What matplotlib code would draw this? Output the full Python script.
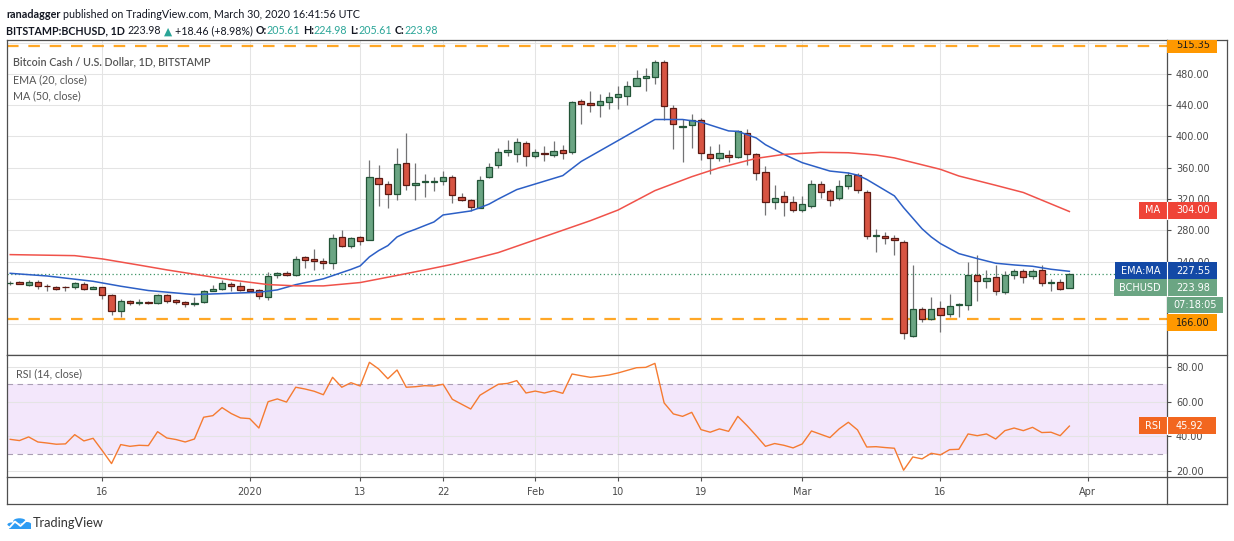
import numpy as np
import pandas as pd
import matplotlib
matplotlib.use('Agg')
import matplotlib.pyplot as plt
from matplotlib.patches import Rectangle, Circle
from matplotlib.lines import Line2D
from matplotlib.transforms import Bbox, TransformedBbox

# ---------------- data ----------------
start_date = '2019-12-06'
opens = [212.0, 213.9, 210.5, 213.5, 208.8, 207.5, 207.3, 207.1, 211.8, 205.4,
         207.1, 196.9, 176.4, 189.7, 186.6, 188.4, 186.6, 196.9, 190.5, 188.4,
         185.4, 188.0, 202.9, 205.4, 211.0, 208.4, 204.6, 203.3, 195.2, 222.4,
         225.4, 223.4, 245.5, 243.0, 240.3, 238.3, 271.9, 260.0, 271.9, 268.1,
         347.2, 339.6, 326.8, 366.4, 338.3, 341.7, 342.0, 343.4, 348.5, 323.0,
         319.1, 309.0, 348.5, 363.5, 380.2, 377.6, 391.7, 375.0, 378.3, 376.3,
         382.7, 379.7, 445.4, 443.3, 440.3, 443.7, 450.6, 451.8, 464.6, 474.9,
         476.2, 495.4, 436.5, 412.2, 414.7, 421.3, 377.9, 372.8, 376.6, 374.0,
         404.7, 377.9, 354.9, 316.6, 324.3, 316.6, 306.4, 311.5, 339.6, 330.6,
         321.3, 337.0, 351.1, 329.4, 273.2, 273.2, 270.6, 265.5, 144.3, 180.0,
         166.8, 181.3, 173.6, 184.5, 185.1, 223.0, 215.3, 220.9, 201.3, 223.4,
         228.5, 222.1, 229.8, 213.2, 214.5, 205.61]
highs = [214.8, 214.8, 216.1, 216.1, 211.0, 208.4, 208.4, 213.5, 213.5, 208.4,
         207.9, 198.2, 192.3, 191.0, 191.8, 189.2, 198.2, 198.2, 192.3, 190.1,
         194.4, 203.8, 209.7, 216.1, 213.9, 213.9, 205.4, 205.4, 226.7, 226.7,
         227.9, 247.7, 246.8, 255.7, 244.3, 275.7, 280.0, 271.5, 272.5, 369.4,
         363.0, 342.6, 384.7, 403.8, 365.5, 351.5, 348.0, 355.3, 350.2, 327.2,
         320.0, 349.0, 365.5, 385.3, 395.9, 398.5, 393.8, 384.4, 388.3, 393.8,
         389.1, 445.5, 448.0, 458.2, 454.8, 456.5, 463.8, 470.2, 484.3, 487.3,
         497.1, 497.0, 440.0, 422.4, 429.2, 423.8, 387.2, 389.8, 382.1, 407.7,
         409.8, 378.5, 361.7, 337.4, 329.8, 323.4, 324.3, 343.8, 343.0, 332.8,
         343.8, 354.5, 353.6, 331.0, 281.3, 278.3, 274.5, 267.2, 235.3, 181.7,
         194.5, 189.4, 198.3, 187.5, 239.1, 248.1, 228.9, 235.7, 228.5, 231.1,
         231.1, 231.1, 235.3, 217.4, 218.3, 224.98]
lows = [209.7, 211.0, 208.4, 205.4, 202.9, 204.2, 202.9, 205.4, 204.2, 204.6,
        192.7, 172.2, 169.6, 184.1, 184.1, 185.8, 186.2, 187.1, 185.8, 182.4,
        183.7, 186.6, 202.9, 204.2, 202.9, 202.9, 202.5, 192.7, 191.0, 219.5,
        221.5, 221.7, 231.9, 228.9, 230.2, 230.2, 258.3, 257.4, 261.0, 267.0,
        311.1, 308.5, 318.3, 331.5, 318.3, 322.6, 330.0, 337.9, 314.9, 317.0,
        304.3, 308.0, 347.0, 359.3, 374.7, 367.0, 362.7, 372.5, 368.2, 373.3,
        370.8, 377.2, 415.6, 430.9, 424.5, 434.4, 434.8, 439.9, 464.0, 457.8,
        467.2, 421.1, 383.6, 367.0, 385.7, 370.2, 351.5, 368.5, 366.8, 372.0,
        363.8, 344.3, 299.6, 307.2, 297.9, 304.0, 303.4, 309.0, 320.9, 310.6,
        319.0, 332.8, 327.7, 268.5, 252.8, 263.0, 248.5, 141.3, 143.0, 162.6,
        165.0, 150.2, 169.4, 169.8, 178.7, 189.8, 206.4, 197.4, 198.3, 217.9,
        213.2, 217.9, 208.5, 202.6, 203.4, 205.61]
closes = [212.4, 211.8, 213.5, 208.4, 208.2, 205.4, 206.9, 212.2, 205.4, 207.5,
          196.9, 176.4, 189.2, 186.6, 188.4, 186.6, 196.9, 189.2, 188.0, 185.4,
          187.5, 202.9, 205.0, 212.2, 208.4, 204.2, 202.9, 195.6, 221.2, 225.4,
          222.4, 243.8, 242.6, 241.3, 238.7, 270.6, 260.0, 270.6, 266.4, 348.5,
          339.6, 326.8, 365.1, 338.3, 340.0, 343.4, 342.3, 348.5, 325.5, 319.1,
          310.2, 344.7, 361.3, 380.2, 382.7, 393.0, 375.0, 380.2, 377.6, 381.9,
          378.9, 444.2, 441.6, 440.3, 444.6, 450.6, 454.8, 465.0, 474.9, 476.6,
          495.4, 439.0, 416.0, 413.5, 421.1, 378.7, 372.8, 379.1, 374.0, 406.4,
          377.9, 353.6, 316.6, 321.7, 316.6, 306.4, 314.0, 339.6, 329.4, 319.1,
          337.0, 351.1, 331.9, 273.2, 274.5, 270.6, 268.1, 148.1, 180.0, 166.8,
          180.0, 172.3, 183.8, 185.5, 222.6, 215.7, 219.6, 202.6, 222.6, 228.5,
          220.9, 228.5, 213.2, 214.5, 205.1, 223.98]

ema_day = [0, 4, 9, 12, 15, 20, 24, 27, 29, 31, 34, 37, 38, 39, 40, 41, 42, 43, 44, 45,
           46, 47, 48, 49, 50, 51, 52, 53, 55, 60, 61, 62, 66, 70, 73, 75, 78, 79, 81, 82,
           84, 86, 89, 91, 92, 93, 96, 97, 99, 100, 101, 102, 103, 105, 107, 109, 111, 113, 115]
ema_val = [225.0, 221.6, 214.8, 208.5, 203.0, 197.8, 199.5, 200.8, 203.8, 210.5, 218.0, 230.0,
           234.5, 246.0, 254.0, 260.4, 271.5, 277.0, 281.3, 286.0, 290.6, 299.6, 301.3, 303.0,
           304.7, 308.9, 313.5, 320.0, 332.0, 349.9, 359.0, 368.0, 394.7, 421.6, 421.6, 418.3,
           407.0, 406.4, 398.0, 389.4, 377.0, 366.4, 355.7, 353.2, 350.5, 345.0, 324.0, 309.0,
           282.0, 271.5, 263.0, 256.6, 250.2, 243.8, 237.9, 235.7, 234.0, 230.2, 227.55]

ma_day = [0, 7, 10, 14, 17, 21, 24, 28, 31, 34, 38, 41, 45, 48, 53, 63, 66, 70, 74, 77,
          81, 84, 88, 91, 94, 96, 101, 103, 107, 110, 115]
ma_val = [248.9, 247.6, 243.4, 235.5, 229.4, 222.0, 216.5, 210.6, 209.0, 208.9, 213.2, 220.0,
          229.3, 236.5, 251.5, 292.3, 305.9, 330.7, 348.5, 360.0, 371.9, 377.0, 379.6, 379.1,
          376.2, 372.5, 357.9, 349.4, 337.5, 328.3, 304.0]

rsi_val = [38.3, 37.6, 39.7, 36.8, 36.2, 35.5, 35.7, 41.0, 37.4, 38.9,
           31.8, 24.4, 35.3, 34.3, 34.9, 34.7, 42.7, 39.1, 38.2, 36.8,
           38.5, 51.0, 51.9, 56.5, 53.1, 50.6, 50.2, 44.8, 59.9, 61.5,
           59.7, 68.2, 67.2, 65.9, 63.9, 73.9, 68.2, 70.8, 68.9, 82.5,
           78.7, 73.1, 78.1, 68.2, 68.5, 69.1, 68.9, 69.9, 61.3, 58.5,
           55.7, 63.6, 66.8, 69.9, 70.4, 72.0, 64.9, 66.0, 64.9, 66.2,
           64.7, 75.8, 74.8, 73.9, 74.5, 75.2, 76.4, 77.9, 79.4, 79.6,
           81.9, 59.2, 52.9, 51.5, 53.8, 43.9, 42.4, 44.3, 42.9, 51.5,
           46.2, 40.4, 34.3, 35.9, 34.9, 33.4, 35.7, 43.1, 41.2, 39.3,
           44.3, 48.1, 43.7, 33.9, 34.1, 33.6, 33.2, 20.6, 28.2, 27.1,
           30.3, 29.4, 32.4, 32.6, 41.4, 40.4, 41.4, 38.5, 43.3, 44.8,
           43.3, 45.2, 42.2, 42.4, 40.4, 45.92]

tick_dates = ['2019-12-16', '2020-01-01', '2020-01-13', '2020-01-22', '2020-02-01',
              '2020-02-10', '2020-02-19', '2020-03-01', '2020-03-16', '2020-04-01']
tick_labels = ['16', '2020', '13', '22', 'Feb', '10', '19', 'Mar', '16', 'Apr']
price_ticks = [160, 200, 240, 280, 320, 360, 400, 440, 480, 520]
price_hidden = [160, 200, 520]   # covered by value labels in the original
rsi_ticks = [20, 40, 60, 80]
support_level = 166.00
resistance_level = 515.35
ema_last = 227.55
ma_last = 304.00
rsi_last = 45.92
countdown = '07:18:05'

# ---------------- layout helpers ----------------
W, H = 1234, 541
fig = plt.figure(figsize=(W / 100, H / 100), dpi=100)
fig.patch.set_facecolor('white')

def fx(x):
    return x / W

def fy(y):
    return 1 - y / H

FRAME = '#4f4f4f'
GRID = '#e4e4e4'
TICKC = '#4a4a4a'
UP_FILL, UP_EDGE = '#6ba583', '#225437'
DN_FILL, DN_EDGE = '#d75442', '#5b1a13'
WICK = '#737375'

day0 = pd.Timestamp(start_date)
tick_pos = [(pd.Timestamp(d) - day0).days for d in tick_dates]
x = np.arange(len(closes))
o = np.array(opens); c = np.array(closes); hi = np.array(highs); lo = np.array(lows)

XLIM = (-0.35, 125.6)

# ---------------- main price panel ----------------
ax = fig.add_axes([fx(7), fy(355), fx(1167) - fx(7), fy(40) - fy(355)])
ax.set_xlim(*XLIM)
ax.set_ylim(120.6, 523.2)
ax.set_facecolor('white')
ax.set_xticks(tick_pos)
ax.set_yticks(price_ticks)
ax.set_yticklabels(['' if v in price_hidden else f'{v:.2f}' for v in price_ticks])
ax.yaxis.tick_right()
ax.tick_params(axis='x', bottom=False, labelbottom=False)
ax.tick_params(axis='y', right=True, left=False, length=3, width=0.8, color=FRAME,
               labelsize=7, labelcolor=TICKC, pad=3.5)
for lab in ax.get_yticklabels():
    lab.set_family('DejaVu Sans')
ax.grid(True, color=GRID, lw=0.75, zorder=0)
ax.set_axisbelow(True)
for s in ax.spines.values():
    s.set_color(FRAME); s.set_linewidth(0.9)

# horizontal levels
ax.axhline(resistance_level, color='#ff9800', lw=1.6, ls=(0, (5.2, 4.4)), alpha=0.85, zorder=1.5)
ax.axhline(support_level, color='#ff9800', lw=1.6, ls=(0, (5.2, 4.4)), alpha=0.85, zorder=1.5)
ax.axhline(closes[-1], color='#3f9467', lw=0.9, ls=(0, (1, 2)), zorder=1.6)

# candles
up = c >= o
body_bot = np.minimum(o, c)
body_h = np.maximum(np.abs(c - o), 0.6)
ax.vlines(x, lo, hi, color=WICK, lw=0.9, zorder=2)
ax.bar(x[up], body_h[up], bottom=body_bot[up], width=0.68, color=UP_FILL,
       edgecolor=UP_EDGE, linewidth=0.9, zorder=3)
ax.bar(x[~up], body_h[~up], bottom=body_bot[~up], width=0.68, color=DN_FILL,
       edgecolor=DN_EDGE, linewidth=0.9, zorder=3)

# moving averages
ax.plot(ema_day, ema_val, color='#2c5fc6', lw=1.1, zorder=4, solid_joinstyle='round')
ax.plot(ma_day, ma_val, color='#f0524a', lw=1.1, zorder=4, solid_joinstyle='round')

# ---------------- RSI panel ----------------
ar = fig.add_axes([fx(7), fy(477), fx(1167) - fx(7), fy(355) - fy(477)])
ar.set_xlim(*XLIM)
ar.set_ylim(16.7, 86.7)
ar.set_xticks(tick_pos)
ar.set_xticklabels(tick_labels)
ar.set_yticks(rsi_ticks)
ar.set_yticklabels([f'{v:.2f}' for v in rsi_ticks])
ar.yaxis.tick_right()
ar.tick_params(axis='y', right=True, left=False, length=3, width=0.8, color=FRAME,
               labelsize=7, labelcolor=TICKC, pad=3.5)
ar.tick_params(axis='x', bottom=True, length=3, width=0.8, color=FRAME,
               labelsize=7, labelcolor=TICKC, pad=4.5)
for lab in ar.get_yticklabels() + ar.get_xticklabels():
    lab.set_family('DejaVu Sans')
ar.grid(True, color=GRID, lw=0.75, zorder=0)
ar.set_axisbelow(True)
for s in ar.spines.values():
    s.set_color(FRAME); s.set_linewidth(0.9)
ar.axhspan(30, 70, color='#f1e2fb', alpha=0.8, lw=0, zorder=0.5)
ar.axhline(70, color='#aa9fb4', lw=0.8, ls=(0, (5, 4)), zorder=1)
ar.axhline(30, color='#aa9fb4', lw=0.8, ls=(0, (5, 4)), zorder=1)
ar.plot(x, rsi_val, color='#f57b31', lw=1.0, zorder=3)

# ---------------- outer frame lines ----------------
def hline(y, x0, x1, color=FRAME, lw=0.9):
    fig.add_artist(Line2D([fx(x0), fx(x1)], [fy(y), fy(y)], color=color, lw=lw,
                          transform=fig.transFigure, zorder=0.5))

def vline(xp, y0, y1, color=FRAME, lw=0.9):
    fig.add_artist(Line2D([fx(xp), fx(xp)], [fy(y0), fy(y1)], color=color, lw=lw,
                          transform=fig.transFigure, zorder=0.5))

hline(40, 1167, 1227)
hline(355, 1167, 1227)
hline(477, 1167, 1227)
hline(504, 7, 1227)
vline(1227, 40, 504)
vline(7, 477, 504)
vline(1167, 477, 504)

# ---------------- right-side value labels ----------------
def box(x0, x1, y0, y1, color):
    r = Rectangle((fx(x0), fy(y1)), fx(x1) - fx(x0), fy(y0) - fy(y1),
                  transform=fig.transFigure, facecolor=color, edgecolor='none', zorder=5)
    fig.add_artist(r)
    return r

def label(xp, yp, s, color, ha='left', clip=None):
    t = fig.text(fx(xp), fy(yp), s, color=color, fontsize=7, family='DejaVu Sans',
                 ha=ha, va='center', zorder=6)
    if clip is not None:
        t.set_clip_box(TransformedBbox(Bbox([[fx(clip[0]), fy(clip[3])], [fx(clip[1]), fy(clip[2])]]),
                                       fig.transFigure))
        t.set_clip_on(True)
    return t

# resistance label (clipped at pane top)
box(1167, 1217, 40.5, 53, '#ff9800')
label(1176, 45.5, f'{resistance_level:.2f}', '#1c1c1c', clip=(1167, 1217, 40.5, 53))
# MA
box(1139, 1217, 202.3, 218.7, '#ef4438')
label(1152.5, 210.5, 'MA', 'white', ha='center')
label(1176, 210.5, f'{ma_last:.2f}', 'white')
# EMA:MA
box(1115, 1217, 262.3, 279.3, '#1349a6')
label(1141, 270.8, 'EMA:MA', 'white', ha='center')
label(1176, 270.8, f'{ema_last:.2f}', 'white')
# BCHUSD
box(1114, 1217, 279.3, 296.3, UP_FILL)
label(1140, 287.8, 'BCHUSD', 'white', ha='center')
label(1176, 287.8, f'{closes[-1]:.2f}', 'white')
# countdown
box(1167, 1223, 296.7, 313.3, UP_FILL)
label(1195, 305, countdown, 'white', ha='center')
# support
box(1167, 1217, 314.3, 331, '#ff9800')
label(1176, 322.7, f'{support_level:.2f}', '#1c1c1c')
# RSI
box(1139, 1216, 417.3, 434.3, '#f2661f')
label(1153, 425.8, 'RSI', 'white', ha='center')
label(1176, 425.8, f'{rsi_last:.2f}', 'white')
# axis gaps through label boxes
for (y0, y1) in [(202.3, 218.7), (262.3, 296.3), (417.3, 434.3)]:
    fig.add_artist(Line2D([fx(1166.6), fx(1166.6)], [fy(y0), fy(y1)], color='white', lw=0.8,
                          transform=fig.transFigure, zorder=5.5))

# ---------------- header / legend texts ----------------
fig.canvas.draw()
renderer = fig.canvas.get_renderer()

def _w(s, size, weight, fam):
    if s == '':
        return 0.0
    t1 = fig.text(0, 0, '|' + s + '|', fontsize=size, fontweight=weight, family=fam)
    t2 = fig.text(0, 0, '||', fontsize=size, fontweight=weight, family=fam)
    w = t1.get_window_extent(renderer).width - t2.get_window_extent(renderer).width
    t1.remove(); t2.remove()
    return w

def draw_runs(runs, x0, ybase, target_w=None, size=None, family='Lato'):
    base = 10.0
    if size is None:
        total = sum(_w(s, base, wt, f or family) for s, col, wt, f in runs)
        size = base * target_w / total
    xp = x0
    for s, col, wt, f in runs:
        fam = f or family
        lead = len(s) - len(s.lstrip(' '))
        core = s.strip(' ')
        xd = xp + _w(' ' * lead, size, wt, fam)
        if core:
            fig.text(fx(xd), fy(ybase), core, color=col, fontsize=size, fontweight=wt,
                     family=fam, ha='left', va='baseline', zorder=7)
        xp += _w(s, size, wt, fam)
    return size

HC = '#131722'
TEAL = '#2aa597'
draw_runs([('ranadagger', HC, 'bold', None),
           (' published on TradingView.com, March 30, 2020 16:41:56 UTC', HC, 'normal', None)],
          6, 17.5, target_w=352)
draw_runs([('BITSTAMP:BCHUSD, 1D', HC, 'bold', None),
           (' 223.98 ', HC, 'normal', None),
           ('\u25B2', TEAL, 'normal', 'DejaVu Sans'),
           (' +18.46 (+8.98%) ', HC, 'normal', None),
           ('O:', HC, 'bold', None), ('205.61', TEAL, 'normal', None),
           (' H:', HC, 'bold', None), ('224.98', TEAL, 'normal', None),
           (' L:', HC, 'bold', None), ('205.61', TEAL, 'normal', None),
           (' C:', HC, 'bold', None), ('223.98', TEAL, 'normal', None)],
          6, 34.2, target_w=430)

LEG = '#555555'
sz = draw_runs([('Bitcoin Cash / U.S. Dollar, 1D, BITSTAMP', LEG, 'semibold', None)],
               12.7, 65.5, target_w=198)
draw_runs([('EMA (20, close)', LEG, 'normal', None)], 12.7, 82.8, size=sz)
draw_runs([('MA (50, close)', LEG, 'normal', None)], 12.7, 99.0, size=sz)
draw_runs([('RSI (14, close)', LEG, 'normal', None)], 15.7, 377.2, size=sz)

# ---------------- TradingView logo ----------------
LOGO = '#2e9cf3'
for (cx, cy, r) in [(12.0, 524.5, 4.6), (19.5, 521.0, 6.2), (26.5, 524.0, 4.6)]:
    fig.add_artist(Circle((fx(cx), fy(cy)), r / W, transform=fig.transFigure,
                          facecolor=LOGO, edgecolor='none', zorder=7))
fig.add_artist(Rectangle((fx(8.5), fy(529)), fx(31) - fx(8.5), fy(524) - fy(529),
                         transform=fig.transFigure, facecolor=LOGO, edgecolor='none', zorder=7))
fig.add_artist(Line2D([fx(9.5), fx(15), fx(20.5), fx(27.5)], [fy(527.5), fy(521.5), fy(526.0), fy(519.5)],
                      color='white', lw=1.3, transform=fig.transFigure, zorder=8,
                      solid_joinstyle='round', solid_capstyle='round'))
draw_runs([('TradingView', '#333333', 'normal', None)], 33, 527.3, target_w=71)

fig.savefig('out.png', dpi=100, facecolor='white')
